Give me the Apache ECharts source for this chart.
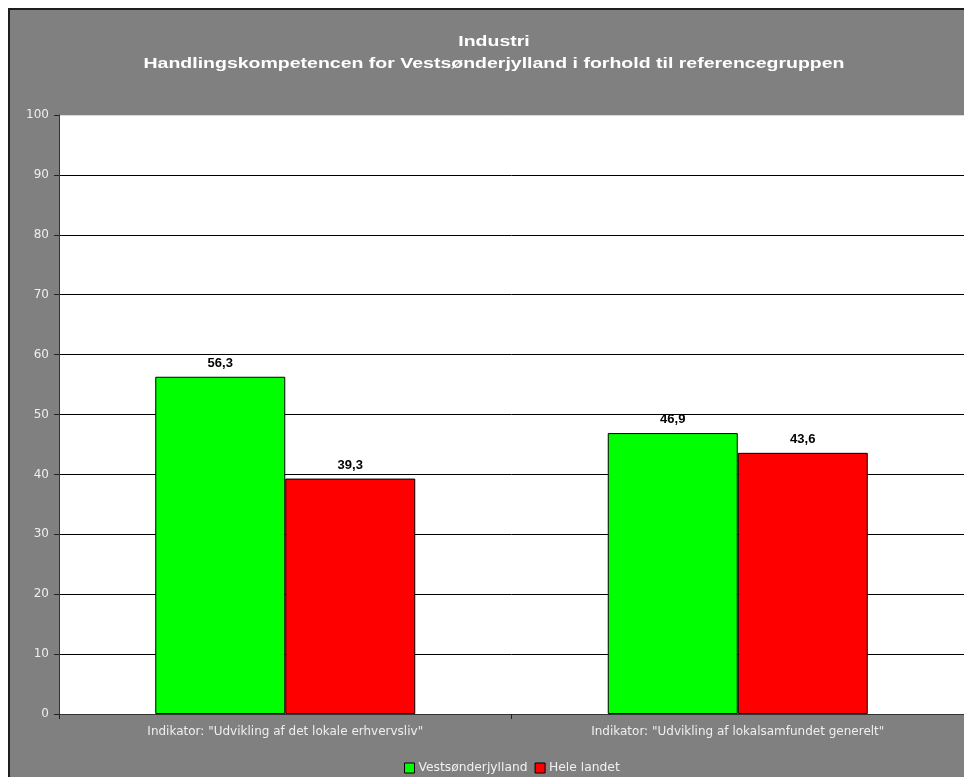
<!DOCTYPE html>
<html>
<head>
<meta charset="utf-8">
<script src="https://cdn.jsdelivr.net/npm/echarts@6/dist/echarts.min.js"></script>
<style>
html,body{margin:0;padding:0;background:#fff;}
#chart{width:964px;height:777px;}
</style>
</head>
<body>
<div id="chart"></div>
<script>
var titleLines = ['Industri', 'Handlingskompetencen for Vestsønderjylland i forhold til referencegruppen'];
var categories = ['Indikator: "Udvikling af det lokale erhvervsliv"', 'Indikator: "Udvikling af lokalsamfundet generelt"'];
var seriesNames = ['Vestsønderjylland', 'Hele landet'];
var vestValues = [56.3, 46.9];
var heleValues = [39.3, 43.6];
var yMin = 0, yMax = 100, yInterval = 10;

var chart = echarts.init(document.getElementById('chart'));
var splitColors = [];
for (var v = yMin; v <= yMax; v += yInterval) splitColors.push(v === yMax ? '#d9d9d9' : '#000000');

function fmt(p){ return String(p.value.toFixed(1)).replace('.', ','); }

chart.setOption({
  animation: false,
  backgroundColor: '#ffffff',
  graphic: [{
    type: 'rect', z: -10, silent: true,
    shape: {x: 9, y: 9, width: 960, height: 780},
    style: {fill: '#808080', stroke: '#1e1e1e', lineWidth: 2}
  }, {
    type: 'text', silent: true, z: 10,
    x: 494, y: 31, scaleX: 1.3, scaleY: 1,
    style: {
      text: titleLines.join('\n'),
      align: 'center', verticalAlign: 'top',
      fill: '#ffffff', font: 'bold 15px "Liberation Sans"', lineHeight: 22
    }
  }],
  legend: {
    left: 399, top: 757,
    itemWidth: 10, itemHeight: 10, itemGap: 7,
    icon: 'rect',
    textStyle: {color: '#f0f0f0', fontFamily: 'DejaVu Sans', fontSize: 12.3, padding: [0,0,0,-1]},
    data: seriesNames.map(function(n){ return {name: n, itemStyle: {borderColor: '#000', borderWidth: 1}}; })
  },
  grid: {left: 59, top: 115, right: 0, bottom: 63, containLabel: false,
         show: true, backgroundColor: '#ffffff', borderWidth: 0},
  xAxis: {
    type: 'category', data: categories,
    axisLine: {lineStyle: {color: '#333', width: 1}},
    axisTick: {show: true, length: 5, lineStyle: {color: '#222'}},
    axisLabel: {color: '#eeeeee', fontFamily: 'DejaVu Sans', fontSize: 12, margin: 12}
  },
  yAxis: {
    type: 'value', min: yMin, max: yMax, interval: yInterval,
    axisLine: {show: true, lineStyle: {color: '#333', width: 1}},
    axisTick: {show: true, length: 5, lineStyle: {color: '#222'}},
    axisLabel: {color: '#eeeeee', fontFamily: 'DejaVu Sans', fontSize: 12, margin: 10},
    splitLine: {show: true, lineStyle: {color: splitColors, width: 1}}
  },
  series: [
    {
      name: seriesNames[0], type: 'bar', data: vestValues,
      barWidth: 130, barGap: '0%',
      itemStyle: {color: '#00ff00', borderColor: '#000', borderWidth: 1},
      label: {show: true, position: 'top', distance: 7, formatter: fmt,
              color: '#000', fontFamily: 'Liberation Sans', fontWeight: 'bold', fontSize: 13}
    },
    {
      name: seriesNames[1], type: 'bar', data: heleValues,
      barWidth: 130, barGap: '0%',
      itemStyle: {color: '#ff0000', borderColor: '#000', borderWidth: 1},
      label: {show: true, position: 'top', distance: 7, formatter: fmt,
              color: '#000', fontFamily: 'Liberation Sans', fontWeight: 'bold', fontSize: 13}
    }
  ]
});
</script>
</body>
</html>
